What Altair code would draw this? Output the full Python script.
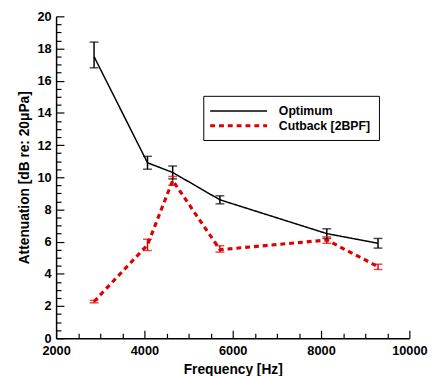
import altair as alt
import pandas as pd

freq = [2860, 4070, 4640, 5710, 8130, 9290]
opt = [17.5, 10.9, 10.3, 8.6, 6.5, 5.9]
opt_lo = [16.8, 10.5, 9.9, 8.35, 6.2, 5.6]
opt_hi = [18.4, 11.3, 10.7, 8.85, 6.8, 6.2]
cut = [2.28, 5.8, 9.8, 5.5, 6.1, 4.45]
cut_lo = [2.2, 5.45, 9.5, 5.35, 5.9, 4.27]
cut_hi = [2.35, 6.15, 10.05, 5.75, 6.3, 4.6]
series = ["Optimum", "Cutback [2BPF]"]

x_ticks = [v for v in range(2000, 10001, 500)]      # major every 2000
y_ticks = [v / 2 for v in range(0, 41)]             # major every 2

W, H = 360, 328
FONT = "Liberation Sans"
XT = "Frequency [Hz]"
YT = "Attenuation [dB re: 20\u03bcPa]"
MAJ, MIN = 8, 5

rows = []
for s, vals, los, his in ((series[0], opt, opt_lo, opt_hi), (series[1], cut, cut_lo, cut_hi)):
    for f, m, lo, hi in zip(freq, vals, los, his):
        rows.append(dict(freq=f, val=m, lo=lo, hi=hi, series=s))
df = pd.DataFrame(rows)

xs = alt.Scale(domain=[2000, 10000], nice=False)
ys = alt.Scale(domain=[0, 20], nice=False)
col = alt.Scale(domain=series, range=["#000000", "#dd0000"])


def build(inward):
    if inward:
        xkw = dict(values=x_ticks,
                   labelExpr="datum.value % 2000 === 0 ? format(datum.value, 'd') : ''",
                   tickSize={"condition": {"test": "datum.value % 2000 === 0", "value": -MAJ}, "value": -MIN},
                   labelPadding=7 + MAJ)
        ykw = dict(values=y_ticks,
                   labelExpr="datum.value % 2 === 0 ? format(datum.value, 'd') : ''",
                   tickSize={"condition": {"test": "datum.value % 2 === 0", "value": -MAJ}, "value": -MIN},
                   labelPadding=5 + MAJ)
    else:
        xkw = dict(values=x_ticks[::4], format="d", tickSize=0, labelPadding=7)
        ykw = dict(values=y_ticks[::4], format="d", tickSize=0, labelPadding=5)
    xax = alt.Axis(grid=False, labelFlush=False, labelOverlap=False, titlePadding=2,
                   tickColor="black", tickWidth=1.2, **xkw)
    yax = alt.Axis(grid=False, labelFlush=False, labelOverlap=False, titlePadding=6,
                   tickColor="black", tickWidth=1.2, **ykw)

    def X(f):
        return alt.X(f, scale=xs, title=XT, axis=xax)

    def Y(f):
        return alt.Y(f, scale=ys, title=YT, axis=yax)

    base = alt.Chart(df)
    lines = base.mark_line().encode(
        x=X("freq:Q"),
        y=Y("val:Q"),
        color=alt.Color("series:N", scale=col, legend=alt.Legend(
            title=None, orient="none", legendX=150, legendY=81,
            symbolType="M-1.46,0H7.46", symbolSize=169, strokeColor="black",
            padding=8, labelOffset=52, rowPadding=0)),
        strokeDash=alt.StrokeDash("series:N", scale=alt.Scale(domain=series, range=[[1, 0], [5, 4]]), legend=alt.Legend(title=None)),
        strokeWidth=alt.StrokeWidth("series:N", scale=alt.Scale(domain=series, range=[1.5, 3.2]), legend=alt.Legend(title=None)),
    )
    err_v = base.mark_rule(strokeWidth=1.5).encode(
        x=X("freq:Q"), y=Y("lo:Q"), y2="hi:Q",
        color=alt.Color("series:N", scale=col, legend=None),
    )
    err_lo = base.mark_tick(orient="horizontal", size=9, thickness=1.5).encode(
        x=X("freq:Q"), y=Y("lo:Q"),
        color=alt.Color("series:N", scale=col, legend=None),
    )
    err_hi = base.mark_tick(orient="horizontal", size=9, thickness=1.5).encode(
        x=X("freq:Q"), y=Y("hi:Q"),
        color=alt.Color("series:N", scale=col, legend=None),
    )
    ch = alt.layer(lines, err_v, err_lo, err_hi).properties(
        width=W, height=H,
        autosize=alt.AutoSizeParams(type="none"),
        padding={"left": 49, "top": 5, "right": 20, "bottom": 35},
    ).configure_view(stroke=None).configure_axis(
        labelFont=FONT, titleFont=FONT, labelFontSize=13, titleFontSize=14,
        labelFontWeight="bold", titleFontWeight="bold", labelColor="black",
        titleColor="black", domainColor="black", domainWidth=1.5,
    ).configure_legend(
        labelFont=FONT, labelFontSize=12.5, labelFontWeight="bold", labelColor="black",
        symbolStrokeWidth=3,
    )
    ch.to_dict()  # validate
    return ch


try:
    chart = build(True)
except Exception:
    chart = build(False)

chart.save("out.html", embed_options={"renderer": "svg", "actions": False})
